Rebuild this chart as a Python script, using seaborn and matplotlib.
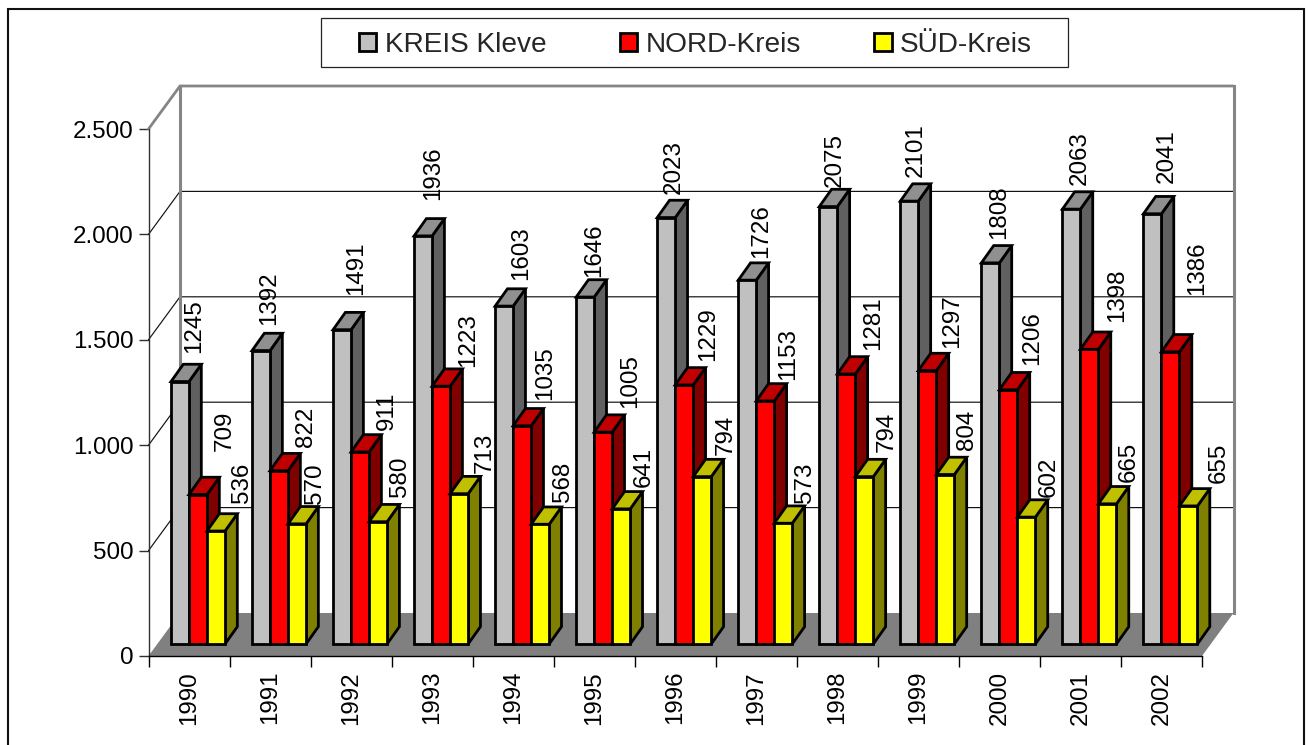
import numpy as np
import pandas as pd
import matplotlib
matplotlib.use("Agg")
import matplotlib.pyplot as plt
from matplotlib.patches import Polygon, Rectangle
import seaborn as sns

years = ["1990", "1991", "1992", "1993", "1994", "1995", "1996", "1997", "1998", "1999", "2000", "2001", "2002"]
kreis_kleve = [1245, 1392, 1491, 1936, 1603, 1646, 2023, 1726, 2075, 2101, 1808, 2063, 2041]
nord_kreis = [709, 822, 911, 1223, 1035, 1005, 1229, 1153, 1281, 1297, 1206, 1398, 1386]
sued_kreis = [536, 570, 580, 713, 568, 641, 794, 573, 794, 804, 602, 665, 655]
series_names = ["KREIS Kleve", "NORD-Kreis", "SÜD-Kreis"]

front_colors = ["#C0C0C0", "#FF0000", "#FFFF00"]
top_colors = ["#909090", "#C00000", "#C0C000"]
side_colors = ["#606060", "#800000", "#808000"]

# Label placement quirks of the original, in pixels relative to each bar
label_dx = [
    [13, 6.5, 13, 8, 15, 7, 6, 12, 5, 5, 7, 7, 13],
    [25, 25, 25, 25, 21, 25, 22, 21, 25, 23, 22, 26, 25],
    [24, 16, 20, 24, 21, 21, 22, 20, 21, 20, 21, 20, 29],
]
label_lift = [
    [28.5, 25.6, 34.7, 36, 26, 20, 23.5, 22, 19.6, 24, 24, 24, 31],
    [43.5, 23.7, 22, 19.2, 25.8, 24.1, 23.9, 20.9, 24, 22.6, 24.8, 27.3, 56.8],
    [28, 19.8, 24.7, 20.7, 22.3, 21.9, 21.6, 20.2, 24.6, 24.5, 20.1, 21.8, 22.9],
]

W, H = 1309, 745
sns.set_style("white")
plt.rcParams["font.family"] = ["Liberation Sans", "DejaVu Sans"]

fig = plt.figure(figsize=(W / 100, H / 100), dpi=100, facecolor="white")
AX_L, AX_R, AX_T, AX_B = 148.5, 1202, 129, 656
ax = fig.add_axes([AX_L / W, (H - AX_B) / H, (AX_R - AX_L) / W, (AX_B - AX_T) / H])
ax.patch.set_alpha(0)

values = [kreis_kleve, nord_kreis, sued_kreis]
df = pd.DataFrame({
    "Jahr": years * 3,
    "Wert": kreis_kleve + nord_kreis + sued_kreis,
    "Gebiet": [n for n in series_names for _ in years],
})
sns.barplot(data=df, x="Jahr", y="Wert", hue="Gebiet", hue_order=series_names,
            palette=front_colors, saturation=1, width=54 / 81, gap=0,
            edgecolor="black", linewidth=2, ax=ax)

n = len(years)
ymax = 2500
ax.set_xlim(-0.5, n - 0.5)
ax.set_ylim(0, ymax)
ax.set_xlabel("")
ax.set_ylabel("")

ux = 1 / ((AX_R - AX_L) / n)          # data units per pixel, x
uy = ymax / (AX_B - AX_T)             # data units per pixel, y

# floor and walls
wx, wy = 31.5 * ux, 43 * uy
x0, x1 = -0.5, n - 0.5
ax.add_patch(Polygon([(x0, 0), (x0 + wx, wy), (x1 + wx, wy), (x1, 0)], closed=True,
                     fc="#808080", ec="none", zorder=0.5, clip_on=False))
yticks = np.arange(0, ymax + 1, 500)
for t in yticks[1:-1]:
    ax.plot([x0, x0 + wx, x1 + wx], [t, t + wy, t + wy], color="#111111", lw=0.85,
            zorder=0.6, clip_on=False, solid_joinstyle="miter")
wall = "#858585"
ax.plot([x0 + wx, x0 + wx], [wy, ymax + wy], color=wall, lw=2.2, zorder=0.7, clip_on=False, solid_capstyle="projecting")
ax.plot([x1 + wx, x1 + wx], [wy, ymax + wy], color=wall, lw=2.2, zorder=0.7, clip_on=False, solid_capstyle="projecting")
ax.plot([x0, x0 + wx, x1 + wx], [ymax, ymax + wy, ymax + wy], color=wall, lw=2.0,
        zorder=0.7, clip_on=False, solid_joinstyle="miter")

# extrude bars
shift_x, shift_y = 9 * ux, 12 * uy
dx, dy = 12.3 * ux, 17.3 * uy
for s, container in enumerate(ax.containers):
    for i, bar in enumerate(container):
        z = 3 + i + s * 0.1
        bar.set_x(bar.get_x() + shift_x)
        bar.set_y(shift_y)
        bar.set_zorder(z + 0.02)
        bar.set_clip_on(False)
        bar.set_joinstyle("miter")
        bx, bw, bh = bar.get_x(), bar.get_width(), bar.get_height()
        base, top = shift_y, shift_y + bh
        ax.add_patch(Polygon([(bx + bw, base), (bx + bw + dx, base + dy), (bx + bw + dx, top + dy), (bx + bw, top)],
                             closed=True, fc=side_colors[s], ec="black", lw=2, zorder=z, clip_on=False, joinstyle="miter"))
        ax.add_patch(Polygon([(bx, top), (bx + dx, top + dy), (bx + bw + dx, top + dy), (bx + bw, top)],
                             closed=True, fc=top_colors[s], ec="black", lw=2, zorder=z, clip_on=False, joinstyle="miter"))
        ax.annotate(str(values[s][i]), xy=(bx + bw / 2, top),
                    xytext=((label_dx[s][i] + 1.5) * 0.72, label_lift[s][i] * 0.72),
                    textcoords="offset points", rotation=90, ha="center", va="bottom",
                    fontsize=17.4, color="black", zorder=50, annotation_clip=False)

# axes
for side in ("top", "right"):
    ax.spines[side].set_visible(False)
ax.spines["left"].set_color("#303030")
ax.spines["left"].set_linewidth(1.0)
ax.spines["bottom"].set_color("black")
ax.spines["bottom"].set_linewidth(1.0)
ax.set_yticks(yticks)
ax.set_yticklabels([f"{t:,}".replace(",", ".") for t in yticks])
ax.tick_params(axis="y", length=7, width=1.0, color="#303030", pad=3.6, labelsize=17.4, left=True, labelcolor="black")
ax.set_xticks(np.arange(n))
ax.set_xticklabels(years, rotation=90)
ax.tick_params(axis="x", which="major", length=0, pad=10.8, labelsize=17.4, labelcolor="black")
ax.set_xticks(np.arange(n + 1) - 0.5, minor=True)
ax.tick_params(axis="x", which="minor", length=7.9, width=1.0, color="black", bottom=True)
ax.grid(False)

# legend and frames
sns.move_legend(ax, "center", bbox_to_anchor=(695.5 / W, 1 - 44.5 / H), bbox_transform=fig.transFigure,
                ncol=3, frameon=False, title=None, fontsize=20.2, handlelength=0.62, handleheight=0.62,
                handletextpad=0.3, columnspacing=2.62)
fig.add_artist(Rectangle((321 / W, 1 - 67 / H), 747 / W, 49 / H, transform=fig.transFigure,
                         fc="none", ec="#222222", lw=0.9))
fig.add_artist(Rectangle((8 / W, -20 / H), 1296 / W, (H + 20 - 9) / H, transform=fig.transFigure,
                         fc="none", ec="#111111", lw=1.5))

fig.savefig("out.png", dpi=100, facecolor="white")
